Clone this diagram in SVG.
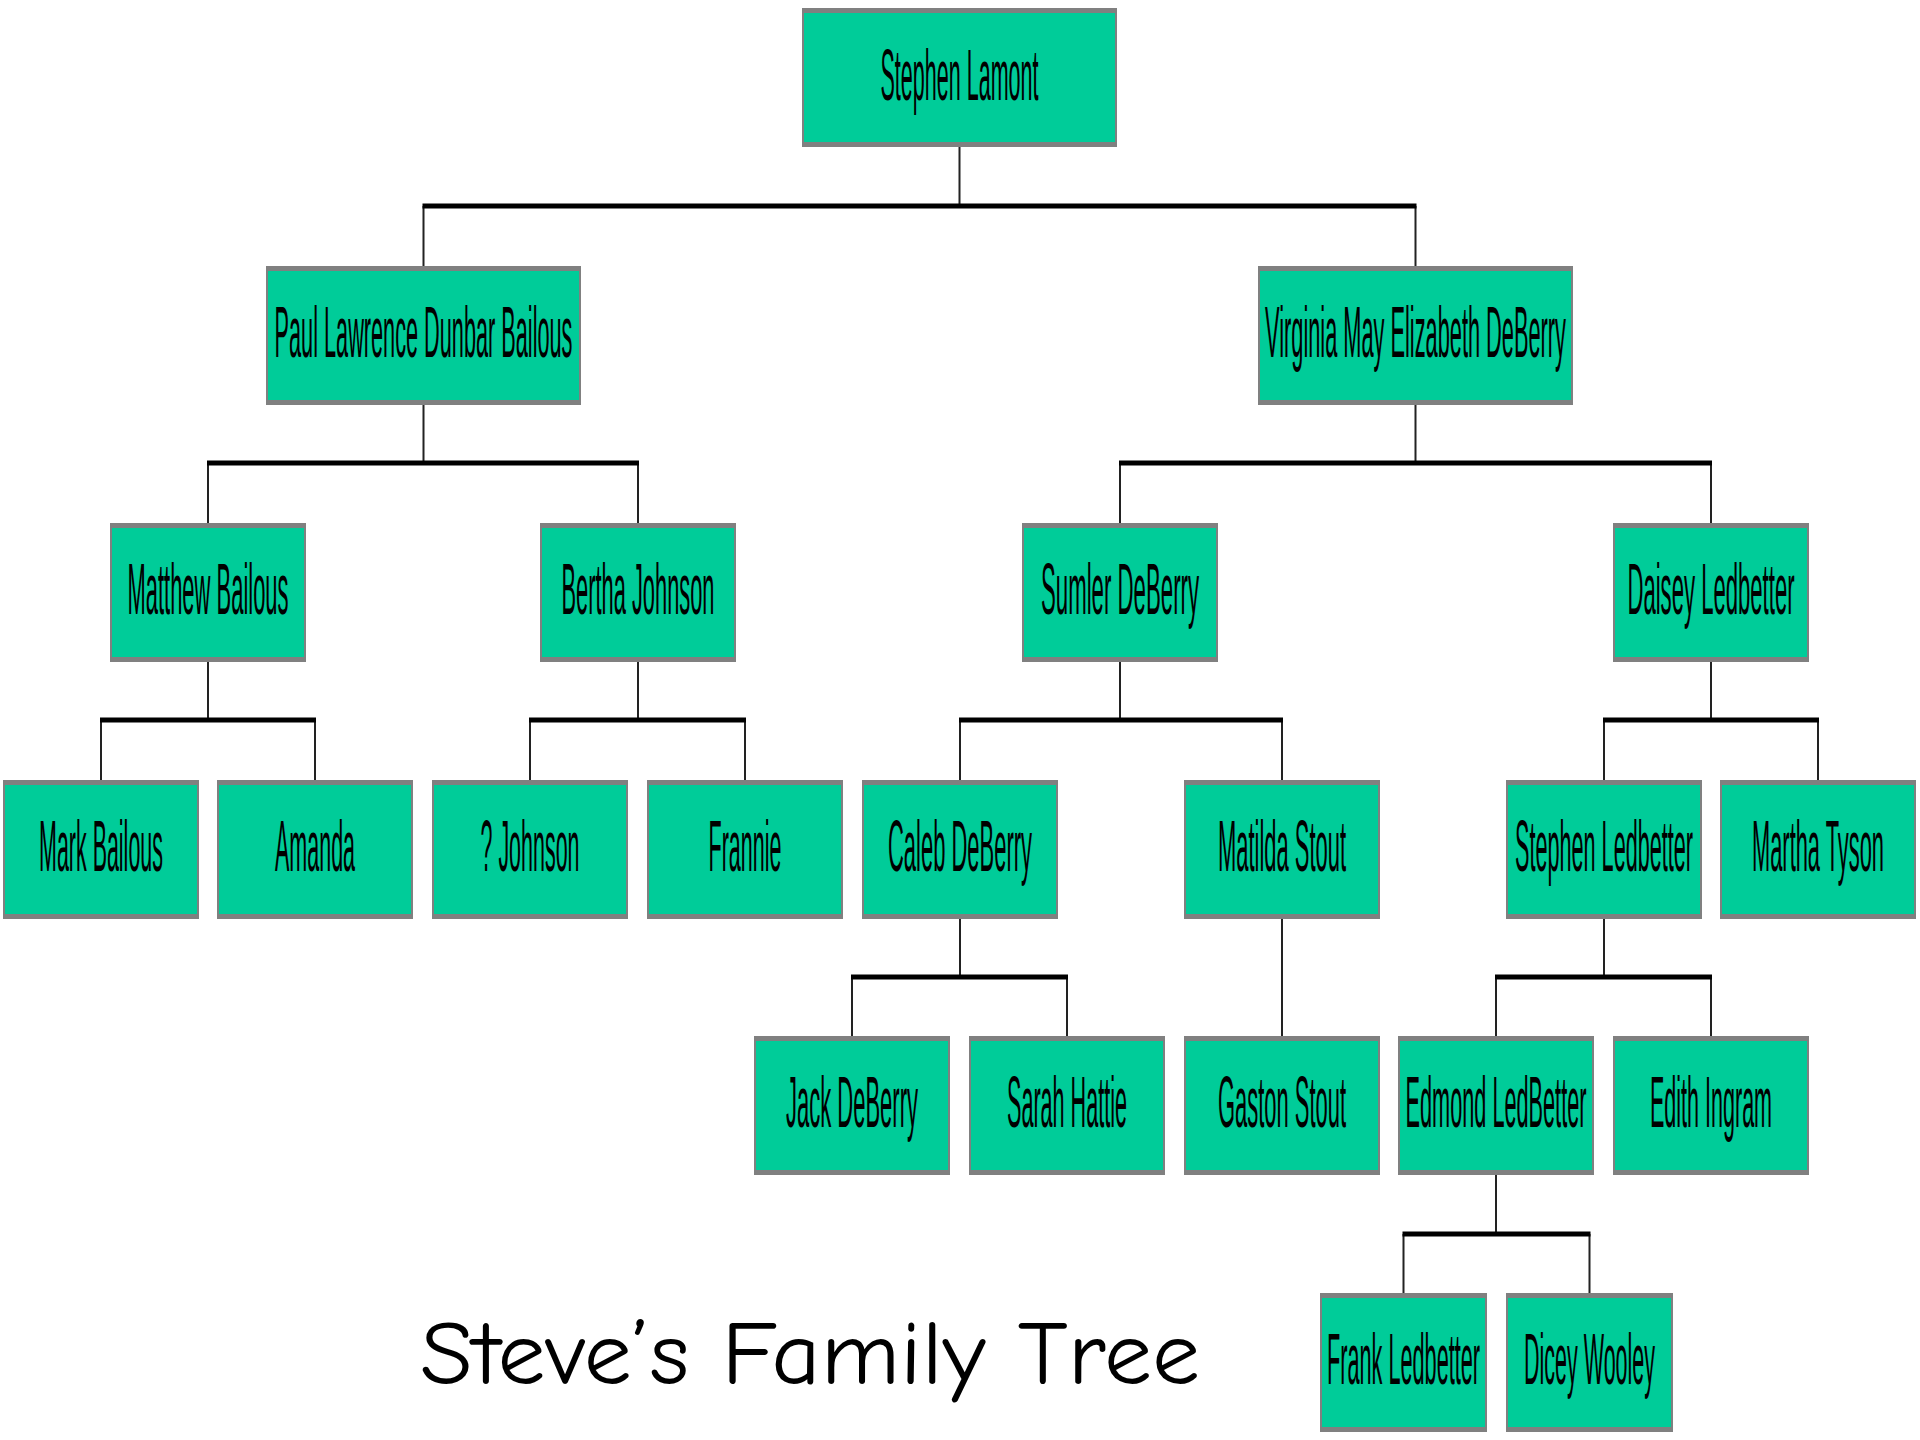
<svg xmlns="http://www.w3.org/2000/svg" width="1920" height="1440" viewBox="0 0 1920 1440">
<style>
.bd{fill:#808080}
.bg{fill:#00CC99}
.t{font-family:"Liberation Sans",Arial,sans-serif;font-size:72px;fill:#000;text-anchor:middle}
.bus{stroke:#000;stroke-width:5;fill:none}
.ln{stroke:#222;stroke-width:2;fill:none}
.title{font-family:"Comic Sans MS","Comic Neue","DejaVu Sans",sans-serif;font-size:90px;fill:#000}
</style>
<rect width="1920" height="1440" fill="#fff"/>
<g id="connectors">
<path class="ln" d="M959.5 147V206M423.5 206V266M1415.5 206V266"/>
<path class="bus" d="M422.5 206H1416.5"/>
<path class="ln" d="M423.5 405V463M208 463V523M638 463V523"/>
<path class="bus" d="M207 463H639"/>
<path class="ln" d="M1415.5 405V463M1120 463V523M1711 463V523"/>
<path class="bus" d="M1119 463H1712"/>
<path class="ln" d="M208 662V720M101 720V780M315 720V780"/>
<path class="bus" d="M100 720H316"/>
<path class="ln" d="M638 662V720M530 720V780M745 720V780"/>
<path class="bus" d="M529 720H746"/>
<path class="ln" d="M1120 662V720M960 720V780M1282 720V780"/>
<path class="bus" d="M959 720H1283"/>
<path class="ln" d="M1711 662V720M1604 720V780M1818 720V780"/>
<path class="bus" d="M1603 720H1819"/>
<path class="ln" d="M960 919V977M852 977V1036M1067 977V1036"/>
<path class="bus" d="M851 977H1068"/>
<path class="ln" d="M1282 919V1036"/>
<path class="ln" d="M1604 919V977M1496 977V1036M1711 977V1036"/>
<path class="bus" d="M1495 977H1712"/>
<path class="ln" d="M1496 1175V1234M1403.5 1234V1293M1589.5 1234V1293"/>
<path class="bus" d="M1402.5 1234H1590.5"/>
</g>
<g id="stephen-lamont"><rect class="bd" x="802" y="8" width="315" height="139"/><rect class="bg" x="804" y="13" width="311" height="129"/><text class="t" transform="translate(959.5 100) scale(0.3 1)" textLength="527" lengthAdjust="spacingAndGlyphs">Stephen Lamont</text></g>
<g id="paul-lawrence-dunbar-bailous"><rect class="bd" x="266" y="266" width="315" height="139"/><rect class="bg" x="268" y="271" width="311" height="129"/><text class="t" transform="translate(423.5 357) scale(0.3 1)" textLength="993" lengthAdjust="spacingAndGlyphs">Paul Lawrence Dunbar Bailous</text></g>
<g id="virginia-may-elizabeth-deberry"><rect class="bd" x="1258" y="266" width="315" height="139"/><rect class="bg" x="1260" y="271" width="311" height="129"/><text class="t" transform="translate(1415.5 357) scale(0.3 1)" textLength="1003" lengthAdjust="spacingAndGlyphs">Virginia May Elizabeth DeBerry</text></g>
<g id="matthew-bailous"><rect class="bd" x="110" y="523" width="196" height="139"/><rect class="bg" x="112" y="528" width="192" height="129"/><text class="t" transform="translate(208 614) scale(0.3 1)" textLength="537" lengthAdjust="spacingAndGlyphs">Matthew Bailous</text></g>
<g id="bertha-johnson"><rect class="bd" x="540" y="523" width="196" height="139"/><rect class="bg" x="542" y="528" width="192" height="129"/><text class="t" transform="translate(638 614) scale(0.3 1)" textLength="510" lengthAdjust="spacingAndGlyphs">Bertha Johnson</text></g>
<g id="sumler-deberry"><rect class="bd" x="1022" y="523" width="196" height="139"/><rect class="bg" x="1024" y="528" width="192" height="129"/><text class="t" transform="translate(1120 614) scale(0.3 1)" textLength="527" lengthAdjust="spacingAndGlyphs">Sumler DeBerry</text></g>
<g id="daisey-ledbetter"><rect class="bd" x="1613" y="523" width="196" height="139"/><rect class="bg" x="1615" y="528" width="192" height="129"/><text class="t" transform="translate(1711 614) scale(0.3 1)" textLength="557" lengthAdjust="spacingAndGlyphs">Daisey Ledbetter</text></g>
<g id="mark-bailous"><rect class="bd" x="3" y="780" width="196" height="139"/><rect class="bg" x="5" y="785" width="192" height="129"/><text class="t" transform="translate(101 871) scale(0.3 1)" textLength="413" lengthAdjust="spacingAndGlyphs">Mark Bailous</text></g>
<g id="amanda"><rect class="bd" x="217" y="780" width="196" height="139"/><rect class="bg" x="219" y="785" width="192" height="129"/><text class="t" transform="translate(315 871) scale(0.3 1)" textLength="267" lengthAdjust="spacingAndGlyphs">Amanda</text></g>
<g id="q-johnson"><rect class="bd" x="432" y="780" width="196" height="139"/><rect class="bg" x="434" y="785" width="192" height="129"/><text class="t" transform="translate(530 871) scale(0.3 1)" textLength="330" lengthAdjust="spacingAndGlyphs">? Johnson</text></g>
<g id="frannie"><rect class="bd" x="647" y="780" width="196" height="139"/><rect class="bg" x="649" y="785" width="192" height="129"/><text class="t" transform="translate(745 871) scale(0.3 1)" textLength="243" lengthAdjust="spacingAndGlyphs">Frannie</text></g>
<g id="caleb-deberry"><rect class="bd" x="862" y="780" width="196" height="139"/><rect class="bg" x="864" y="785" width="192" height="129"/><text class="t" transform="translate(960 871) scale(0.3 1)" textLength="480" lengthAdjust="spacingAndGlyphs">Caleb DeBerry</text></g>
<g id="matilda-stout"><rect class="bd" x="1184" y="780" width="196" height="139"/><rect class="bg" x="1186" y="785" width="192" height="129"/><text class="t" transform="translate(1282 871) scale(0.3 1)" textLength="427" lengthAdjust="spacingAndGlyphs">Matilda Stout</text></g>
<g id="stephen-ledbetter"><rect class="bd" x="1506" y="780" width="196" height="139"/><rect class="bg" x="1508" y="785" width="192" height="129"/><text class="t" transform="translate(1604 871) scale(0.3 1)" textLength="593" lengthAdjust="spacingAndGlyphs">Stephen Ledbetter</text></g>
<g id="martha-tyson"><rect class="bd" x="1720" y="780" width="196" height="139"/><rect class="bg" x="1722" y="785" width="192" height="129"/><text class="t" transform="translate(1818 871) scale(0.3 1)" textLength="440" lengthAdjust="spacingAndGlyphs">Martha Tyson</text></g>
<g id="jack-deberry"><rect class="bd" x="754" y="1036" width="196" height="139"/><rect class="bg" x="756" y="1041" width="192" height="129"/><text class="t" transform="translate(852 1127) scale(0.3 1)" textLength="440" lengthAdjust="spacingAndGlyphs">Jack DeBerry</text></g>
<g id="sarah-hattie"><rect class="bd" x="969" y="1036" width="196" height="139"/><rect class="bg" x="971" y="1041" width="192" height="129"/><text class="t" transform="translate(1067 1127) scale(0.3 1)" textLength="400" lengthAdjust="spacingAndGlyphs">Sarah Hattie</text></g>
<g id="gaston-stout"><rect class="bd" x="1184" y="1036" width="196" height="139"/><rect class="bg" x="1186" y="1041" width="192" height="129"/><text class="t" transform="translate(1282 1127) scale(0.3 1)" textLength="427" lengthAdjust="spacingAndGlyphs">Gaston Stout</text></g>
<g id="edmond-ledbetter"><rect class="bd" x="1398" y="1036" width="196" height="139"/><rect class="bg" x="1400" y="1041" width="192" height="129"/><text class="t" transform="translate(1496 1127) scale(0.3 1)" textLength="603" lengthAdjust="spacingAndGlyphs">Edmond LedBetter</text></g>
<g id="edith-ingram"><rect class="bd" x="1613" y="1036" width="196" height="139"/><rect class="bg" x="1615" y="1041" width="192" height="129"/><text class="t" transform="translate(1711 1127) scale(0.3 1)" textLength="407" lengthAdjust="spacingAndGlyphs">Edith Ingram</text></g>
<g id="frank-ledbetter"><rect class="bd" x="1320" y="1293" width="167" height="139"/><rect class="bg" x="1322" y="1298" width="163" height="129"/><text class="t" transform="translate(1403.5 1384) scale(0.3 1)" textLength="510" lengthAdjust="spacingAndGlyphs">Frank Ledbetter</text></g>
<g id="dicey-wooley"><rect class="bd" x="1506" y="1293" width="167" height="139"/><rect class="bg" x="1508" y="1298" width="163" height="129"/><text class="t" transform="translate(1589.5 1384) scale(0.3 1)" textLength="437" lengthAdjust="spacingAndGlyphs">Dicey Wooley</text></g>
<text id="title" class="title" x="420" y="1384" textLength="780" lengthAdjust="spacingAndGlyphs">Steve’s Family Tree</text>
</svg>
